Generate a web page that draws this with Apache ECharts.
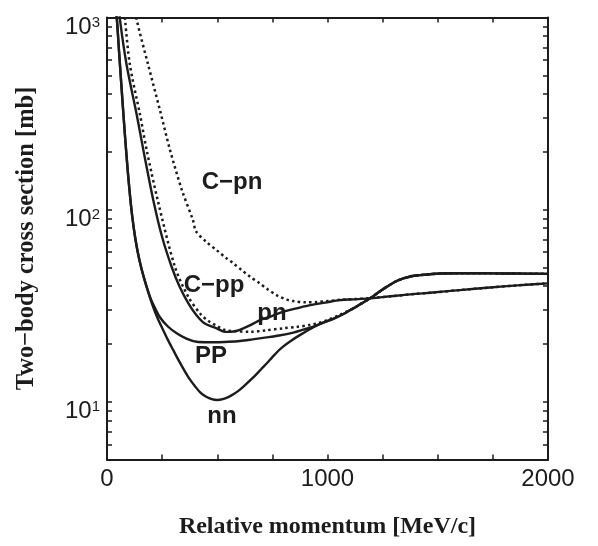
<!DOCTYPE html>
<html><head><meta charset="utf-8">
<script src="https://cdn.jsdelivr.net/npm/echarts@6/dist/echarts.min.js"></script>
<style>html,body{margin:0;padding:0;background:#fff}#c{width:598px;height:546px}</style>
</head><body><div id="c"></div>
<script>
// ---- data (relative momentum MeV/c, cross section mb) ----
const nnX = [38, 45, 55, 65, 75, 85, 95, 105, 115, 127, 140, 155, 170, 185, 200, 218, 235, 250, 275, 300, 325, 350, 375, 400, 425, 450, 475, 500, 525, 550, 575, 600, 625, 650, 675, 700, 725, 750, 775, 800, 830, 880, 936, 980, 1026, 1070, 1117, 1155, 1193, 1230, 1268, 1305, 1344, 1380, 1420, 1465, 1510, 1600, 1700, 1800, 1900, 2000];
const nnY = [1150, 971, 656, 447, 307, 215, 155, 116, 91, 72.4, 59.6, 49.9, 43.2, 37.8, 33.4, 29.3, 26.3, 24.2, 21.1, 18.6, 16.4, 14.6, 13.1, 12.0, 11.1, 10.6, 10.3, 10.2, 10.3, 10.57, 10.96, 11.48, 12.16, 12.94, 13.8, 14.79, 15.85, 17.06, 18.3, 19.4, 20.6, 22.4, 24.4, 25.8, 27.0, 28.5, 30.6, 32.5, 34.5, 37.0, 39.6, 42.0, 43.8, 45.0, 45.6, 46.1, 46.5, 46.6, 46.6, 46.5, 46.4, 46.3];

const ppX = [38, 45, 55, 65, 75, 85, 95, 105, 115, 127, 140, 155, 170, 185, 200, 215, 240, 275, 316, 360, 407, 450, 497, 550, 603, 660, 724, 780, 845, 890, 936, 980, 1026, 1070, 1117, 1155, 1193, 1230, 1268, 1305, 1344, 1380, 1420, 1465, 1510, 1600, 1700, 1800, 1900, 2000];
const ppY = [1150, 971, 656, 447, 307, 215, 155, 116, 91, 72.4, 59.6, 49.9, 43.2, 38.0, 34.0, 31.2, 27.5, 24.7, 22.7, 21.3, 20.5, 20.4, 20.4, 20.5, 20.7, 21.1, 21.6, 22.1, 22.9, 23.7, 24.6, 25.8, 27.0, 28.5, 30.6, 32.5, 34.5, 37.0, 39.6, 42.0, 43.8, 45.0, 45.6, 46.1, 46.5, 46.6, 46.6, 46.5, 46.4, 46.3];

const pnX = [55, 59, 89, 135, 165, 210, 250, 293, 330, 369, 405, 444, 497, 535, 558, 590, 618, 655, 694, 750, 800, 860, 921, 990, 1057, 1120, 1193, 1300, 1400, 1465, 1600, 1737, 1860, 2000];
const pnY = [1150, 971, 566, 311, 204, 112, 72, 50.4, 39.5, 32.5, 28.3, 25.5, 24.1, 23.1, 23.1, 23.4, 24.1, 25.2, 26.6, 28.0, 29.4, 30.6, 31.8, 32.8, 33.8, 34.1, 34.5, 35.5, 36.4, 36.9, 38.1, 39.3, 40.3, 41.3];

const cppX = [78, 82, 104, 150, 180, 230, 308, 369, 425, 460, 497, 535, 573, 649, 720, 800, 860, 921, 960, 1000, 1057, 1117, 1155, 1193, 1230, 1268, 1305, 1344, 1380, 1420, 1465, 1510, 1600, 1700, 1800, 1900, 2000];
const cppY = [1150, 971, 566, 311, 204, 112, 50.4, 35.1, 28.5, 26.3, 24.8, 23.6, 23.3, 23.1, 23.5, 24.1, 24.5, 25.1, 25.7, 26.6, 28.4, 30.6, 32.5, 34.5, 37.0, 39.6, 42.0, 43.8, 45.0, 45.6, 46.1, 46.5, 46.6, 46.6, 46.5, 46.4, 46.3];

const cpnX = [128, 135, 187, 240, 286, 340, 390, 404, 450, 497, 540, 573, 610, 649, 690, 724, 770, 815, 845, 900, 951, 1000, 1057, 1120, 1193, 1300, 1400, 1465, 1600, 1737, 1860, 2000];
const cpnY = [1150, 971, 566, 330, 204, 126, 88, 77, 68, 61.5, 56, 52.5, 48.5, 44.7, 41.5, 38.8, 35.8, 34.0, 33.4, 32.9, 33.0, 33.4, 33.9, 34.2, 34.6, 35.5, 36.4, 36.9, 38.1, 39.3, 40.3, 41.3];

const xLabelValues = [0, 1000, 2000];
const yLabelValues = [10, 100, 1000];
const yTickValues = [6, 7, 8, 9, 10, 20, 30, 40, 50, 60, 70, 80, 90, 100, 200, 300, 400, 500, 600, 700, 800, 900, 1000];

const curveLabels = [
  { text: 'C\u2212pn', x: 232, y: 182 },
  { text: 'C\u2212pp', x: 214, y: 285 },
  { text: 'pn', x: 272, y: 313 },
  { text: 'PP', x: 211, y: 356 },
  { text: 'nn', x: 222, y: 416 }
];

// ---- chart ----
const pairs = (xs, ys) => xs.map((x, i) => [x, ys[i]]);
const INK = '#1c1c1c';
const chart = echarts.init(document.getElementById('c'), null, { renderer: 'canvas' });

function lineSeries(name, xs, ys, dotted) {
  return {
    name, type: 'line', data: pairs(xs, ys), showSymbol: false, symbol: 'none',
    smooth: 0.3, clip: true, z: dotted ? 3 : 4,
    lineStyle: { color: INK, width: dotted ? 2.5 : 2.4, type: dotted ? [2.5, 3.2] : 'solid', cap: 'butt', join: 'round' }
  };
}

const axisCommon = {
  axisLine: { show: true, onZero: false, lineStyle: { color: INK, width: 2 } },
  splitLine: { show: false }
};

const option = {
  animation: false,
  backgroundColor: '#fff',
  grid: { left: 107, right: 50, top: 17.5, bottom: 86.5, containLabel: false },
  xAxis: [
    Object.assign({}, axisCommon, {
      type: 'value', min: 0, max: 2000, interval: 250, position: 'bottom',
      axisTick: { show: true, inside: true, length: 5, lineStyle: { color: INK, width: 1.5 } },
      axisLabel: {
        margin: 8, fontSize: 24, fontFamily: 'Liberation Sans, Arial, sans-serif', color: INK,
        customValues: xLabelValues, formatter: v => String(v)
      },
      name: 'Relative momentum [MeV/c]', nameLocation: 'middle', nameGap: 55,
      nameTextStyle: { fontSize: 24, fontWeight: 'bold', fontFamily: 'Liberation Serif, Times New Roman, serif', color: INK }
    }),
    Object.assign({}, axisCommon, {
      type: 'value', min: 0, max: 2000, interval: 250, position: 'top',
      axisTick: { show: true, inside: true, length: 5, lineStyle: { color: INK, width: 1.5 } },
      axisLabel: { show: false }
    })
  ],
  yAxis: [
    Object.assign({}, axisCommon, {
      type: 'log', logBase: 10, min: 5, max: 1000, position: 'left',
      axisTick: { show: true, inside: true, length: 5, customValues: yTickValues, lineStyle: { color: INK, width: 1.5 } },
      axisLabel: {
        margin: 7, customValues: yLabelValues, padding: [19, 0, 0, 0],
        formatter: v => '{b|10}{s|' + Math.round(Math.log10(v)) + '}',
        rich: {
          b: { fontSize: 24, lineHeight: 24, fontFamily: 'Liberation Sans, Arial, sans-serif', color: INK, verticalAlign: 'bottom', padding: [4.5, 0, 0, 0] },
          s: { fontSize: 15, lineHeight: 15, fontFamily: 'Liberation Sans, Arial, sans-serif', color: INK, verticalAlign: 'top' }
        }
      },
      name: 'Two\u2212body cross section [mb]', nameLocation: 'middle', nameGap: 68, nameRotate: 90,
      nameTextStyle: { fontSize: 24.5, fontWeight: 'bold', fontFamily: 'Liberation Serif, Times New Roman, serif', color: INK }
    }),
    Object.assign({}, axisCommon, {
      type: 'log', logBase: 10, min: 5, max: 1000, position: 'right',
      axisTick: { show: true, inside: true, length: 5, customValues: yTickValues, lineStyle: { color: INK, width: 1.5 } },
      axisLabel: { show: false }
    })
  ],
  series: [
    lineSeries('nn', nnX, nnY, false),
    lineSeries('pp', ppX, ppY, false),
    lineSeries('pn', pnX, pnY, false),
    lineSeries('C-pp', cppX, cppY, true),
    lineSeries('C-pn', cpnX, cpnY, true)
  ],
  graphic: curveLabels.map(l => ({
    type: 'text', x: l.x, y: l.y, z: 10,
    style: { text: l.text, fill: INK, font: 'bold 24px "Liberation Sans", Arial, sans-serif', align: 'center', verticalAlign: 'middle' }
  }))
};
chart.setOption(option);
</script>
</body></html>
